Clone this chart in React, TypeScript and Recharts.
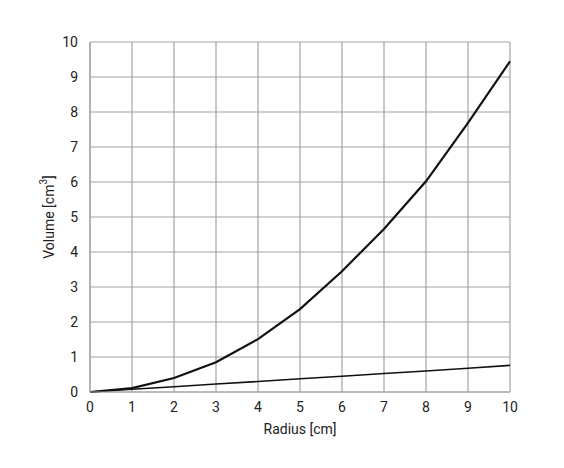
import React from "react";
import { LineChart, Line, XAxis, YAxis, CartesianGrid } from "recharts";

const radius = [0, 1, 2, 3, 4, 5, 6, 7, 8, 9, 10];
const curveVolume = [0, 0.11, 0.4, 0.85, 1.51, 2.37, 3.45, 4.66, 6.02, 7.69, 9.45];
const linearVolume = [0, 0.08, 0.15, 0.23, 0.3, 0.38, 0.45, 0.53, 0.6, 0.68, 0.76];
const xTicks = [0, 1, 2, 3, 4, 5, 6, 7, 8, 9, 10];
const yTicks = [0, 1, 2, 3, 4, 5, 6, 7, 8, 9, 10];

const data = radius.map((r, i) => ({ r, curve: curveVolume[i], lin: linearVolume[i] }));

const FONT = "Roboto, 'Liberation Sans', sans-serif";
const GRID = "#a3a3a3";

const YLabel = (props: any) => {
  const vb = props.viewBox || {};
  const cx = 41;
  const cy = (vb.y ?? 34) + (vb.height ?? 350) / 2;
  return (
    <text
      x={cx}
      y={cy}
      transform={`rotate(-90, ${cx}, ${cy})`}
      textAnchor="middle"
      dominantBaseline="central"
      fontFamily={FONT}
      fontSize={14}
      fill="#222"
    >
      Volume [cm
      <tspan dy={-6} fontSize={10}>3</tspan>
      <tspan dy={6}>]</tspan>
    </text>
  );
};

export default function App() {
  return (
    <div style={{ width: 548, height: 452 }}>
      <LineChart
        width={548}
        height={452}
        data={data}
        margin={{ top: 34, right: 46, bottom: 38, left: 22 }}
      >
        <CartesianGrid stroke={GRID} strokeWidth={1.2} />
        <XAxis
          dataKey="r"
          type="number"
          domain={[0, 10]}
          ticks={xTicks}
          interval={0}
          axisLine={{ stroke: GRID, strokeWidth: 1.2 }}
          tickLine={false}
          tick={{ fill: "#222", fontSize: 14, fontFamily: FONT }}
          tickMargin={4}
          label={{
            value: "Radius [cm]",
            position: "insideBottom",
            offset: -12,
            style: { fill: "#222", fontSize: 14, fontFamily: FONT },
          }}
        />
        <YAxis
          type="number"
          domain={[0, 10]}
          ticks={yTicks}
          interval={0}
          width={60}
          axisLine={{ stroke: GRID, strokeWidth: 1.2 }}
          tickLine={false}
          tick={{ fill: "#222", fontSize: 14, fontFamily: FONT }}
          tickMargin={6}
          label={<YLabel />}
        />
        <Line
          type="linear"
          dataKey="curve"
          stroke="#111"
          strokeWidth={2.2}
          dot={false}
          isAnimationActive={false}
        />
        <Line
          type="linear"
          dataKey="lin"
          stroke="#111"
          strokeWidth={1.6}
          dot={false}
          isAnimationActive={false}
        />
      </LineChart>
    </div>
  );
}
